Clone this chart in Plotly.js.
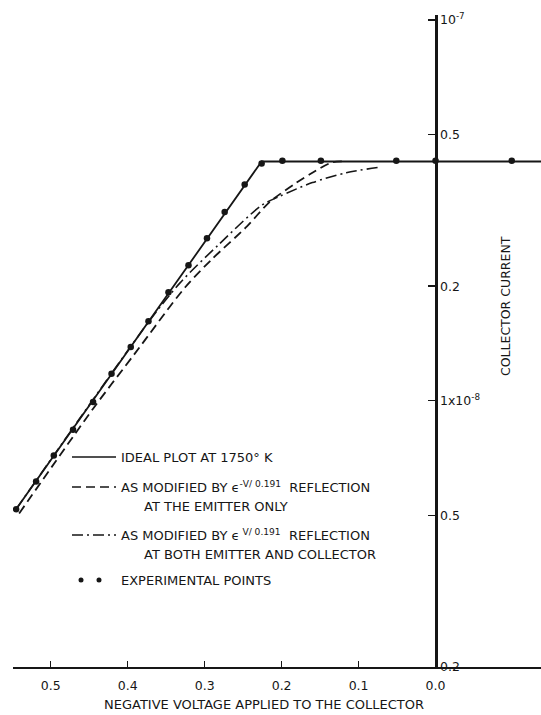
<!DOCTYPE html>
<html>
<head>
<meta charset="utf-8">
<script src="https://cdn.plot.ly/plotly-3.0.1.min.js"></script>
<style>html,body{margin:0;padding:0;background:#fff;}#chart{width:541px;height:715px;}</style>
</head>
<body>
<div id="chart"></div>
<script>
// Experimental points (negative collector voltage, collector current in A)
const expVoltage = [0.545, 0.519, 0.496, 0.471, 0.445, 0.421, 0.396, 0.373, 0.347, 0.321, 0.297, 0.274, 0.248, 0.226, 0.199, 0.149, 0.051, 0.0, -0.099];
const expCurrent = [5.19e-9, 6.14e-9, 7.18e-9, 8.40e-9, 9.93e-9, 1.177e-8, 1.384e-8, 1.618e-8, 1.927e-8, 2.27e-8, 2.67e-8, 3.13e-8, 3.70e-8, 4.2e-8, 4.27e-8, 4.27e-8, 4.27e-8, 4.27e-8, 4.27e-8];
// Ideal plot at 1750 K
const idealVoltage = [0.545, 0.226, -0.137];
const idealCurrent = [5.19e-9, 4.25e-8, 4.25e-8];
// Modified by reflection at the emitter only
const emitterVoltage = [0.541, 0.445, 0.391, 0.325, 0.290, 0.245, 0.216, 0.1805, 0.160, 0.134, 0.118];
const emitterCurrent = [5.06e-9, 9.53e-9, 1.328e-8, 1.99e-8, 2.36e-8, 2.87e-8, 3.32e-8, 3.74e-8, 3.97e-8, 4.23e-8, 4.25e-8];
// Modified by reflection at both emitter and collector
const bothVoltage = [0.545, 0.371, 0.332, 0.281, 0.226, 0.203, 0.160, 0.116, 0.075];
const bothCurrent = [5.19e-9, 1.629e-8, 2.04e-8, 2.58e-8, 3.26e-8, 3.44e-8, 3.74e-8, 3.97e-8, 4.10e-8];
// Tick labels
const xTickVals = [0.5, 0.4, 0.3, 0.2, 0.1, 0.0];
const xTickText = ["0.5", "0.4", "0.3", "0.2", "0.1", "0.0"];
const yTickVals = [1e-7, 5e-8, 2e-8, 1e-8, 5e-9, 2e-9];
const yTickText = ["10<sup>-7</sup>", "0.5", "0.2", "1x10<sup>-8</sup>", "0.5", "0.2"];

const INK = "#161616";
const FONT = "DejaVu Sans, Liberation Sans, sans-serif";
const W = 541, H = 715, ML = 13, MR = 0, MT = 15, MB = 48;
const px = x => (x - ML) / (W - ML - MR);
const py = y => (H - MB - y) / (H - MT - MB);

const traces = [
  {x: bothVoltage, y: bothCurrent, mode: "lines", line: {color: INK, width: 1.6, dash: "11px,4px,2px,4px", shape: "spline", smoothing: 0.8}, hoverinfo: "skip"},
  {x: emitterVoltage, y: emitterCurrent, mode: "lines", line: {color: INK, width: 1.8, dash: "9px,5px", shape: "spline", smoothing: 0.8}, hoverinfo: "skip"},
  {x: idealVoltage, y: idealCurrent, mode: "lines", line: {color: INK, width: 1.8}, hoverinfo: "skip"},
  {x: expVoltage, y: expCurrent, mode: "markers", marker: {color: INK, size: 6.5}, hoverinfo: "skip"}
];

const legRows = [
  {y: 457, dash: "solid", text: "IDEAL PLOT AT 1750° K"},
  {y: 487, dash: "9px,5px", text: "AS MODIFIED BY ϵ<sup>-V/ 0.191</sup>  REFLECTION"},
  {y: 535, dash: "11px,4px,2px,4px", text: "AS MODIFIED BY ϵ<sup> V/ 0.191</sup>  REFLECTION"}
];
const shapes = legRows.map(r => ({type: "line", xref: "paper", yref: "paper", x0: px(72), x1: px(116), y0: py(r.y), y1: py(r.y), line: {color: INK, width: 1.5, dash: r.dash}}));
[81, 99].forEach(cx => shapes.push({type: "circle", xref: "paper", yref: "paper", x0: px(cx - 2.5), x1: px(cx + 2.5), y0: py(580 + 2.5), y1: py(580 - 2.5), fillcolor: INK, line: {color: INK, width: 0}}));

const ann = (x, y, text, extra) => Object.assign({xref: "paper", yref: "paper", x: px(x), y: py(y), text: text, showarrow: false, xanchor: "left", yanchor: "middle", font: {family: FONT, size: 13, color: INK}}, extra || {});
const annotations = legRows.map(r => ann(119, r.y, r.text));
annotations.push(ann(142, 506, "AT THE EMITTER ONLY"));
annotations.push(ann(142, 554, "AT BOTH EMITTER AND COLLECTOR"));
annotations.push(ann(119, 580, "EXPERIMENTAL POINTS"));
annotations.push(ann(505, 306, "COLLECTOR CURRENT", {textangle: -90, xanchor: "center", font: {family: FONT, size: 12.5, color: INK}}));
annotations.push(ann(264, 705, "NEGATIVE VOLTAGE APPLIED TO THE COLLECTOR", {xanchor: "center", font: {family: FONT, size: 13, color: INK}}));

const layout = {
  width: W, height: H,
  margin: {l: ML, r: MR, t: MT, b: MB, pad: 0},
  paper_bgcolor: "#fff", plot_bgcolor: "#fff",
  showlegend: false,
  xaxis: {
    range: [0.549, -0.137], showgrid: false, zeroline: false,
    showline: true, linecolor: INK, linewidth: 1.5,
    ticks: "inside", ticklen: 6, tickwidth: 1.3, tickcolor: INK,
    tickmode: "array", tickvals: xTickVals, ticktext: xTickText,
    tickfont: {family: FONT, size: 12.5, color: INK}, ticklabelstandoff: 6
  },
  yaxis: {
    type: "log", range: [Math.log10(2e-9), -6.987],
    anchor: "free", position: px(436), side: "right",
    showgrid: false, zeroline: false,
    showline: true, linecolor: INK, linewidth: 2.5,
    ticks: "inside", ticklen: 7, tickwidth: 1.3, tickcolor: INK,
    tickmode: "array", tickvals: yTickVals, ticktext: yTickText,
    tickfont: {family: FONT, size: 12.5, color: INK}
  },
  shapes: shapes,
  annotations: annotations
};

Plotly.newPlot("chart", traces, layout, {staticPlot: true, displayModeBar: false});
</script>
</body>
</html>
